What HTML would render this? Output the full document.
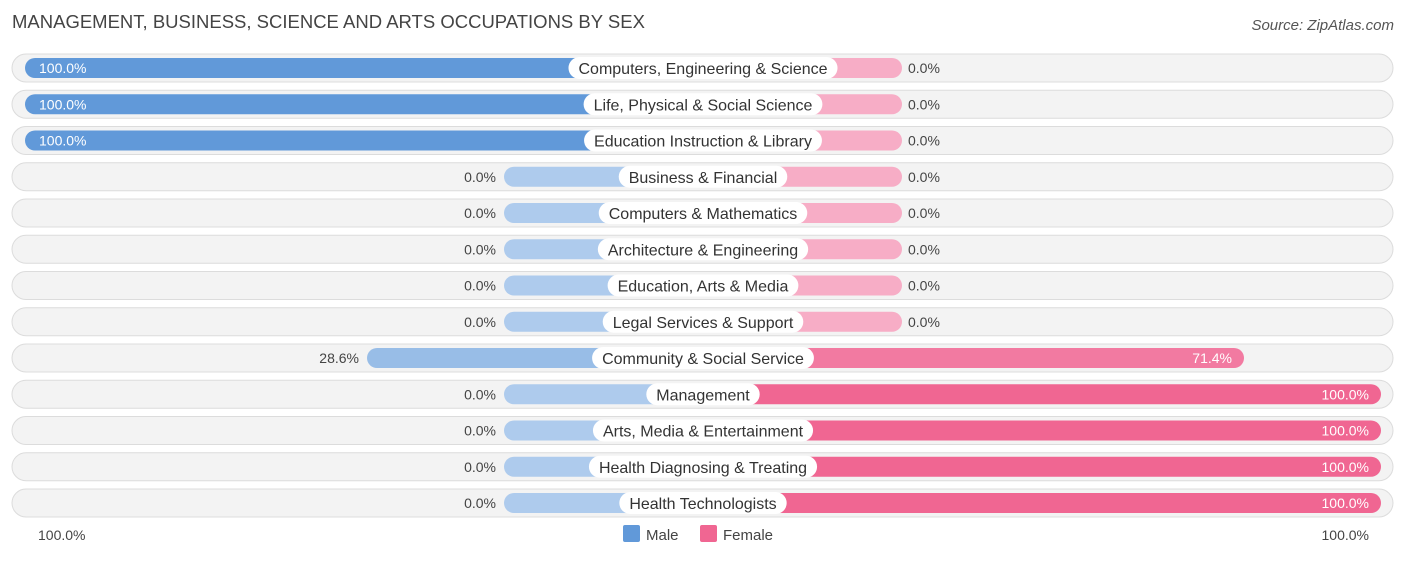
<!DOCTYPE html>
<html><head><meta charset="utf-8"><style>
body{margin:0;background:#fff;font-family:"Liberation Sans",sans-serif;}
svg text{font-family:"Liberation Sans",sans-serif;}
</style></head><body>
<svg id="c" width="1406" height="559">
<text x="12" y="28" font-size="18.5" fill="#444">MANAGEMENT, BUSINESS, SCIENCE AND ARTS OCCUPATIONS BY SEX</text>
<text x="1394" y="30" font-size="15" fill="#555" font-style="italic" text-anchor="end">Source: ZipAtlas.com</text>
<g id="rows"></g>
<text x="38" y="540" font-size="14" fill="#444">100.0%</text>
<text x="1369" y="540" font-size="14" fill="#444" text-anchor="end">100.0%</text>
<g>
<rect x="623" y="525" width="17" height="17" rx="2" fill="#6199d9"/>
<text x="646" y="540" font-size="15" fill="#444">Male</text>
<rect x="700" y="525" width="17" height="17" rx="2" fill="#f06692"/>
<text x="723" y="540" font-size="15" fill="#444">Female</text>
</g>
</svg>
<script>
const categories=["Computers, Engineering & Science","Life, Physical & Social Science","Education Instruction & Library","Business & Financial","Computers & Mathematics","Architecture & Engineering","Education, Arts & Media","Legal Services & Support","Community & Social Service","Management","Arts, Media & Entertainment","Health Diagnosing & Treating","Health Technologists"];
const maleValues=[100,100,100,0,0,0,0,0,28.6,0,0,0,0];
const femaleValues=[0,0,0,0,0,0,0,0,71.4,100,100,100,100];
const NS="http://www.w3.org/2000/svg";
const cx=703,stub=199,scale=4.79,y0=68,dy=36.25;
function len(v){return stub+v*scale;}
function rowY(i){return y0+i*dy;}
function mix(a,b,t){const p=s=>[1,3,5].map(k=>parseInt(s.substr(k,2),16));const A=p(a),B=p(b);return "rgb("+A.map((x,k)=>Math.round(x+(B[k]-x)*t)).join(",")+")";}
function el(t,a){const e=document.createElementNS(NS,t);for(const k in a)e.setAttribute(k,a[k]);return e;}
const g=document.getElementById("rows");
categories.forEach((c,i)=>{
  const y=rowY(i);
  const row=el("g",{});
  
  
  const bg=el("rect",{x:12,y:y-14,width:1381,height:28,rx:14,fill:"#f3f3f3",stroke:"#dcdcdc","stroke-width":1});
  
  
  row.appendChild(bg);
  const m=maleValues[i],f=femaleValues[i];
  const ml=len(m),fl=len(f);
  const mb=el("rect",{x:cx-ml,y:y-10,width:ml,height:20,rx:10,fill:mix("#aecbed","#6199d9",m/100)});
  
  
  row.appendChild(mb);
  const fb=el("rect",{x:cx,y:y-10,width:fl,height:20,rx:10,fill:mix("#f7adc6","#f06692",f/100)});
  
  
  row.appendChild(fb);
  const mIn=m>50;
  const mt=el("text",{x:mIn?cx-ml+14:cx-ml-8,y:y+5,"font-size":14,fill:mIn?"#fff":"#444","text-anchor":mIn?"start":"end"});
  mt.textContent=m.toFixed(1)+"%";
  
  
  row.appendChild(mt);
  const fIn=f>50;
  const ft=el("text",{x:fIn?cx+fl-12:cx+fl+6,y:y+5,"font-size":14,fill:fIn?"#fff":"#444","text-anchor":fIn?"end":"start"});
  ft.textContent=f.toFixed(1)+"%";
  
  
  row.appendChild(ft);
  const lt=el("text",{x:cx,y:y+6,"font-size":16,fill:"#333","text-anchor":"middle"});
  lt.textContent=c;
  
  
  row.appendChild(lt);
  g.appendChild(row);
  const w=lt.getComputedTextLength()+20;
  const pill=el("rect",{x:cx-w/2,y:y-11,width:w,height:22,rx:11,fill:"#fff"});
  
  
  row.insertBefore(pill,lt);
});
</script>
</body></html>
